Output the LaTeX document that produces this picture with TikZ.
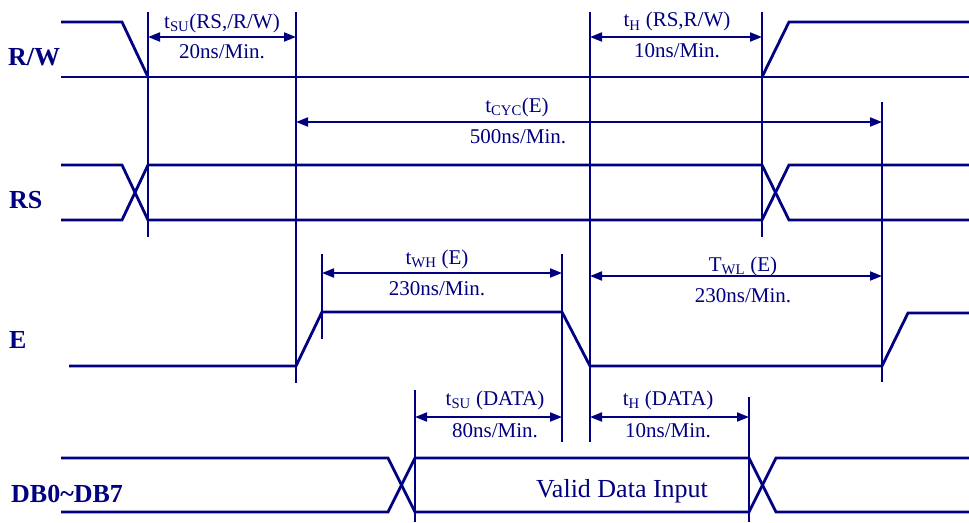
\documentclass[tikz,border=0pt]{standalone}
\usepackage{fontspec}
\setmainfont{Liberation Serif}
\usetikzlibrary{arrows.meta}
\definecolor{navy}{RGB}{0,0,128}

\begin{document}
\begin{tikzpicture}[x=1pt,y=-1pt,
        sig/.style={navy, line width=2.8pt},
        guide/.style={navy, line width=1.3pt},
        dim/.style={navy, line width=1.8pt, {Triangle[length=12pt,width=9pt]}-{Triangle[length=12pt,width=9pt]}},
        lbl/.style={navy, anchor=base, inner sep=0pt, font=\fontsize{21}{25}\selectfont},
        signame/.style={navy, anchor=base west, inner sep=0pt, font=\fontsize{26}{31}\selectfont\bfseries}]
        %FRAME
        \useasboundingbox (0,0) rectangle (969,522);

        %SIGNAL R/W
        \draw[sig] (61,22) -- (122,22) -- (148,77);
        \draw[sig] (61,77) -- (969,77);
        \draw[sig] (762,77) -- (789,22) -- (969,22);

        %SIGNAL RS
        \draw[sig] (61,165) -- (122,165) -- (148,220) -- (762,220) -- (789,165) -- (969,165);
        \draw[sig] (61,220) -- (122,220) -- (148,165) -- (762,165) -- (789,220) -- (969,220);

        %SIGNAL E
        \draw[sig] (69,366) -- (296,366) -- (322,312) -- (562,312) -- (590,366) -- (882,366) -- (908,313) -- (969,313);

        %SIGNAL DB
        \draw[sig] (61,458) -- (388,458) -- (415,512) -- (749,512) -- (776,458) -- (969,458);
        \draw[sig] (61,512) -- (388,512) -- (415,458) -- (749,458) -- (776,512) -- (969,512);

        %GARIS BANTU
        \draw[guide] (148,12) -- (148,237);
        \draw[guide] (296,12) -- (296,383);
        \draw[guide] (590,12) -- (590,442);
        \draw[guide] (762,12) -- (762,237);
        \draw[guide] (882,102) -- (882,382);
        \draw[guide] (322,254) -- (322,339);
        \draw[guide] (562,254) -- (562,442);
        \draw[guide] (415,390) -- (415,522);
        \draw[guide] (749,397) -- (749,522);

        %TIMING ARROWS
        \draw[dim] (148,37) -- (296,37);
        \draw[dim] (590,37) -- (762,37);
        \draw[dim] (296,122) -- (882,122);
        \draw[dim] (322,273) -- (562,273);
        \draw[dim] (590,276) -- (882,276);
        \draw[dim] (415,417) -- (562,417);
        \draw[dim] (590,417) -- (749,417);

        %LABEL
        \node[signame] (rw) at (8,65){R/W};
        \node[signame] (rs) at (9,208){RS};
        \node[signame] (en) at (9,348){E};
        \node[signame] (db) at (11,502){DB0\textasciitilde DB7};

        \node[lbl] (tsurs) at (222,28){t\textsubscript{SU}(RS,/R/W)};
        \node[lbl] (tsursv) at (222,58){20ns/Min.};
        \node[lbl] (thrs) at (677,27){t\textsubscript{H} (RS,R/W)};
        \node[lbl] (thrsv) at (677,57){10ns/Min.};
        \node[lbl] (tcyc) at (517,112){t\textsubscript{CYC}(E)};
        \node[lbl] (tcycv) at (518,143){500ns/Min.};
        \node[lbl] (twh) at (437,264){t\textsubscript{WH} (E)};
        \node[lbl] (twhv) at (437,295){230ns/Min.};
        \node[lbl] (twl) at (743,271){T\textsubscript{WL} (E)};
        \node[lbl] (twlv) at (743,302){230ns/Min.};
        \node[lbl] (tsud) at (495,405){t\textsubscript{SU} (DATA)};
        \node[lbl] (tsudv) at (495,437){80ns/Min.};
        \node[lbl] (thd) at (668,405){t\textsubscript{H} (DATA)};
        \node[lbl] (thdv) at (668,437){10ns/Min.};
        \node[lbl, font=\fontsize{26}{31}\selectfont] (valid) at (622,497){Valid Data Input};
    \end{tikzpicture}
\end{document}
